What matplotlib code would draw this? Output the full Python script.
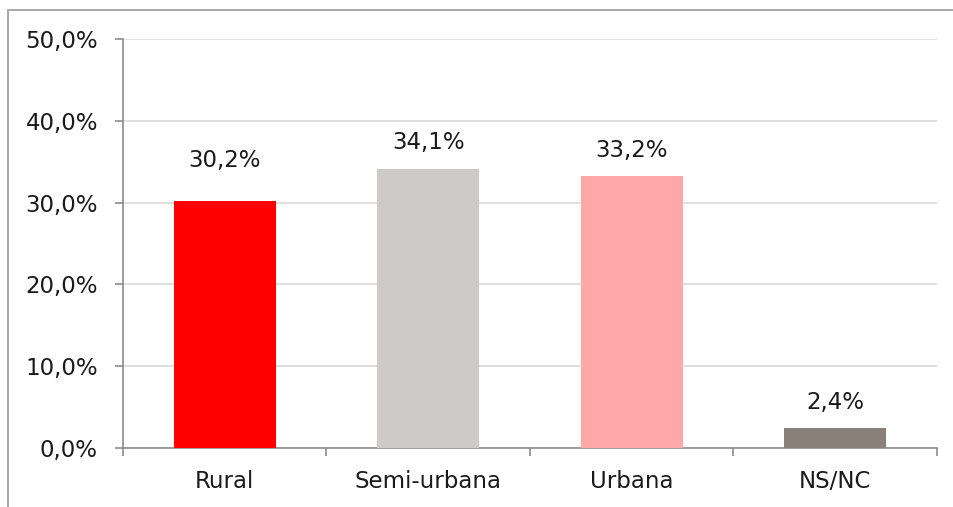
import matplotlib.pyplot as plt
from matplotlib.patches import Rectangle

categories = ['Rural', 'Semi-urbana', 'Urbana', 'NS/NC']
values = [30.2, 34.1, 33.2, 2.4]
labels = ['30,2%', '34,1%', '33,2%', '2,4%']
colors = ['#FF0000', '#CDCAC7', '#FFA8AA', '#898079']
yticks = [0, 10, 20, 30, 40, 50]
ytick_labels = ['0,0%', '10,0%', '20,0%', '30,0%', '40,0%', '50,0%']
# the first label sits a little higher in the original
label_offsets = [20.5, 10.5, 10.5, 10.5]

plt.rcParams['font.family'] = ['DejaVu Sans']

fig = plt.figure(figsize=(9.54, 5.07), dpi=100)
ax = fig.add_axes([123 / 954, 1 - 448 / 507, (937 - 123) / 954, (448 - 39) / 507])

# outer chart frame (cropped at right and bottom)
fig.patches.append(Rectangle((8 / 954, -0.1), 1.2, 1 - 10 / 507 + 0.1,
                             transform=fig.transFigure, fill=False,
                             edgecolor='#9A9A9A', linewidth=1.2))

x = range(len(categories))
bars = ax.bar(x, values, width=0.5, color=colors, zorder=3)

for xi, v, lab, off in zip(x, values, labels, label_offsets):
    ax.annotate(lab, (xi, v), xytext=(0, off), textcoords='offset points',
                ha='center', va='bottom', fontsize=16.5, color='#1A1A1A')

ax.set_xlim(-0.5, len(categories) - 0.5)
ax.set_ylim(0, 50)
ax.set_yticks(yticks)
ax.set_yticklabels(ytick_labels, fontsize=16.5, color='#1A1A1A')
ax.set_xticks(list(x))
ax.set_xticklabels(categories, fontsize=16.5, color='#1A1A1A')
ax.set_xticks([i - 0.5 for i in range(len(categories) + 1)], minor=True)

ax.tick_params(axis='x', which='major', length=0, pad=16)
ax.tick_params(axis='x', which='minor', length=6, color='#8C8C8C', width=1.2)
ax.tick_params(axis='y', length=6, color='#8C8C8C', width=1.2, pad=12)

ax.grid(axis='y', color='#D9D9D9', linewidth=1.2, zorder=0)
for s in ['top', 'right']:
    ax.spines[s].set_visible(False)
for s in ['left', 'bottom']:
    ax.spines[s].set_color('#8C8C8C')
    ax.spines[s].set_linewidth(1.2)

fig.savefig('out.png', dpi=100)
